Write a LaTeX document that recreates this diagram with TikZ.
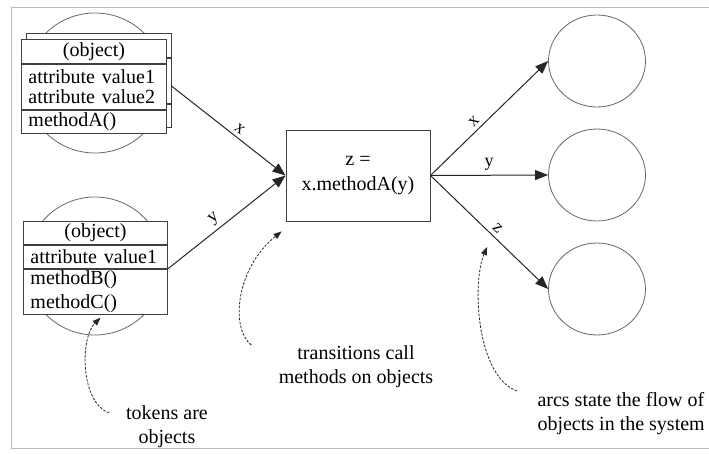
\documentclass[tikz,border=0pt]{standalone}
\usepackage{fontspec}
\setmainfont{Liberation Serif}
\usetikzlibrary{arrows.meta,shapes.geometric}
\begin{document}
\begin{tikzpicture}[x=1pt,y=-1pt,
  every node/.style={font=\fontsize{20}{24}\selectfont},
  row/.style={draw=black!75, line width=0.9pt, fill=white, inner sep=0pt,
    minimum height=#1, minimum width=145pt, text width=131pt, align=left,
    inner xsep=7pt, anchor=north west},
  crow/.style={row=#1, align=center},
  token/.style={circle, draw=black!60, line width=0.8pt, minimum size=140pt, inner sep=0pt},
  place/.style={ellipse, draw=black!60, line width=0.8pt, minimum width=97pt, minimum height=92pt, inner sep=0pt},
  trans/.style={draw=black!75, line width=0.9pt, minimum width=144pt, minimum height=91pt, inner sep=0pt, align=center, font=\fontsize{20}{25}\selectfont},
  arc/.style={-{Triangle[length=13pt,width=10pt]}, line width=1pt, draw=black!85},
  lbl/.style={font=\fontsize{18}{18}\selectfont, sloped, above, inner sep=4pt},
  note/.style={dash pattern=on 2.5pt off 1.5pt, line width=0.8pt, draw=black!85, -{Triangle[length=8pt,width=6pt]}},
  two/.style={font=\fontsize{20}{20}\selectfont}
]
\useasboundingbox (0,0) rectangle (709,453);
\draw[gray!55, line width=0.8pt] (709,7) -- (11,7) -- (11,448) -- (709,448);

% top token
\node[token] (t1) at (95,83) {};
\node[crow=24pt] (b1a) at (26,33) {};
\node[row=45pt] (b1b) at (b1a.south west) {};
\node[row=23pt] (b1c) at (b1b.south west) {};
\node[crow=24pt] (f1a) at (21,39) {(object)};
\node[row=45pt, two] (f1b) at (f1a.south west) {attribute value1\\attribute value2};
\node[row=23pt] (f1c) at (f1b.south west) {methodA()};

% lower token
\node[token, minimum size=138pt] (t2) at (95,266) {};
\node[crow=23pt, minimum width=144pt, text width=130pt] (f2a) at (23,221) {(object)};
\node[row=23pt, minimum width=144pt, text width=130pt] (f2b) at (f2a.south west) {attribute value1};
\node[row=45pt, minimum width=144pt, text width=130pt] (f2c) at (f2b.south west) {methodB()\\methodC()};

% transition
\node[trans] (tr) at (358,175.5) {z =\\x.methodA(y)};

% places
\node[place] (p1) at (597,61) {};
\node[place] (p2) at (597,175) {};
\node[place] (p3) at (597,289) {};

% arcs
\draw[arc] ([yshift=-5.5pt]b1b.east) -- node[lbl,pos=0.55]{x} (tr.west);
\draw[arc] (f2b.south east) -- node[lbl,pos=0.45]{y} (tr.west);
\draw[arc] (tr.east) -- node[lbl,pos=0.42]{x} (p1.west);
\draw[arc] (tr.east) -- node[lbl,pos=0.5]{y} (p2.west);
\draw[arc] (tr.east) -- node[lbl,pos=0.52]{z} (p3.west);

% notes
\node[align=center] (tok) at (167,427) {tokens are\\objects};
\node[align=center] (trn) at (356,367) {transitions call\\methods on objects};
\node[align=left, anchor=west] (arcs) at (534,414) {arcs state the flow of\\objects in the system};

\draw[note] ([shift={(-13.5,-14)}]tok.west) .. controls (80,402) and (80,338) .. ([shift={(5,3)}]f2c.south);
\draw[note] ([shift={(-24,-22)}]trn.west) .. controls (230,328) and (236,268) .. ([shift={(-4,10)}]tr.south west);
\draw[note] ([shift={(-17,-23)}]arcs.west) .. controls (476,376) and (472,282) .. ([shift={(-61,-42)}]p3.west);
\end{tikzpicture}
\end{document}
